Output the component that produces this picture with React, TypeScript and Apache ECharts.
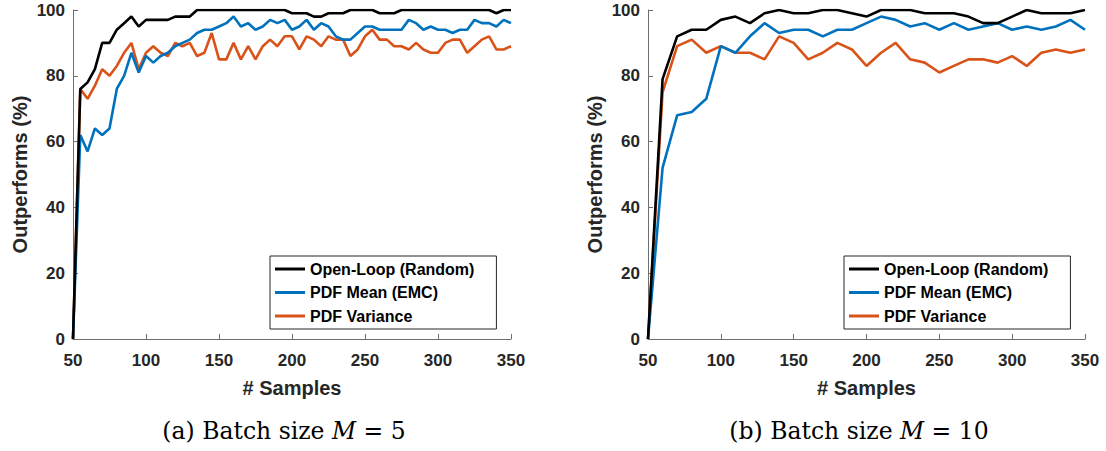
import React, { useEffect, useRef } from "react";
import * as echarts from "echarts";

const samplesM5 = [50, 55, 60, 65, 70, 75, 80, 85, 90, 95, 100, 105, 110, 115, 120, 125, 130, 135, 140, 145, 150, 155, 160, 165, 170, 175, 180, 185, 190, 195, 200, 205, 210, 215, 220, 225, 230, 235, 240, 245, 250, 255, 260, 265, 270, 275, 280, 285, 290, 295, 300, 305, 310, 315, 320, 325, 330, 335, 340, 345, 350];
const openLoopM5 = [0, 76, 78, 82, 90, 90, 94, 96, 98, 95, 97, 97, 97, 97, 98, 98, 98, 100, 100, 100, 100, 100, 100, 100, 100, 100, 100, 100, 100, 100, 99, 99, 99, 98, 98, 99, 99, 99, 100, 100, 100, 100, 99, 99, 99, 100, 100, 100, 100, 100, 100, 100, 100, 100, 100, 100, 100, 100, 99, 100, 100];
const pdfMeanM5 = [0, 62, 57, 64, 62, 64, 76, 80, 87, 81, 86, 84, 86, 87, 89, 90, 91, 93, 94, 94, 95, 96, 98, 95, 96, 94, 95, 97, 96, 97, 94, 95, 97, 94, 96, 95, 92, 91, 91, 93, 95, 95, 94, 94, 94, 94, 97, 96, 94, 95, 94, 94, 93, 94, 94, 97, 96, 96, 95, 97, 96];
const pdfVarM5 = [0, 76, 73, 77, 82, 80, 83, 87, 90, 82, 87, 89, 87, 86, 90, 89, 90, 86, 87, 93, 85, 85, 90, 85, 89, 85, 89, 91, 89, 92, 92, 88, 92, 91, 89, 92, 91, 91, 86, 88, 92, 94, 91, 91, 89, 89, 88, 90, 88, 87, 87, 90, 91, 91, 87, 89, 91, 92, 88, 88, 89];

const samplesM10 = [50, 60, 70, 80, 90, 100, 110, 120, 130, 140, 150, 160, 170, 180, 190, 200, 210, 220, 230, 240, 250, 260, 270, 280, 290, 300, 310, 320, 330, 340, 350];
const openLoopM10 = [0, 79, 92, 94, 94, 97, 98, 96, 99, 100, 99, 99, 100, 100, 99, 98, 100, 100, 100, 99, 99, 99, 98, 96, 96, 98, 100, 99, 99, 99, 100];
const pdfMeanM10 = [0, 52, 68, 69, 73, 89, 87, 92, 96, 93, 94, 94, 92, 94, 94, 96, 98, 97, 95, 96, 94, 96, 94, 95, 96, 94, 95, 94, 95, 97, 94];
const pdfVarM10 = [0, 75, 89, 91, 87, 89, 87, 87, 85, 92, 90, 85, 87, 90, 88, 83, 87, 90, 85, 84, 81, 83, 85, 85, 84, 86, 83, 87, 88, 87, 88];

const seriesNames = ["Open-Loop (Random)", "PDF Mean (EMC)", "PDF Variance"];
const seriesColors = ["#000000", "#0072BD", "#D95319"];
const captions = [
  { label: "(a)", m: "5" },
  { label: "(b)", m: "10" },
];

const SANS = "'Liberation Sans', Arial, Helvetica, sans-serif";
const SERIF = "'DejaVu Serif', 'Liberation Serif', serif";

const grids = [
  { left: 73, top: 10, width: 438, height: 329 },
  { left: 648, top: 10, width: 437, height: 329 },
];
const legendPos = [
  { left: 270, top: 256 },
  { left: 844, top: 256 },
];
const captionCenters = [284, 859];

function pairs(xs: number[], ys: number[]) {
  return xs.map((x, i) => [x, ys[i]]);
}

export default function App() {
  const ref = useRef<HTMLDivElement>(null);
  useEffect(() => {
    if (!ref.current) return;
    const chart = echarts.init(ref.current, null, { renderer: "svg" });
    const panels = [
      { xs: samplesM5, ys: [openLoopM5, pdfMeanM5, pdfVarM5] },
      { xs: samplesM10, ys: [openLoopM10, pdfMeanM10, pdfVarM10] },
    ];
    const axisColor = "#6e6e6e";
    const labelColor = "#262626";
    const option: any = {
      animation: false,
      grid: grids,
      xAxis: grids.map((_, i) => ({
        type: "value",
        gridIndex: i,
        min: 50,
        max: 350,
        interval: 50,
        name: "# Samples",
        nameLocation: "middle",
        nameGap: 39,
        nameTextStyle: { fontSize: 20, fontWeight: "bold", color: labelColor, fontFamily: SANS },
        axisLine: { lineStyle: { color: axisColor, width: 1 } },
        axisTick: { inside: true, length: 5, lineStyle: { color: axisColor } },
        axisLabel: { fontSize: 17, fontWeight: "bold", color: labelColor, margin: 13, fontFamily: SANS },
        splitLine: { show: false },
      })),
      yAxis: grids.map((_, i) => ({
        type: "value",
        gridIndex: i,
        min: 0,
        max: 100,
        interval: 20,
        name: "Outperforms (%)",
        nameLocation: "middle",
        nameGap: 43,
        nameRotate: 90,
        nameTextStyle: { fontSize: 20, fontWeight: "bold", color: labelColor, fontFamily: SANS },
        axisLine: { show: true, lineStyle: { color: axisColor, width: 1 } },
        axisTick: { show: true, inside: true, length: 5, lineStyle: { color: axisColor } },
        axisLabel: { fontSize: 17, fontWeight: "bold", color: labelColor, margin: 8, fontFamily: SANS },
        splitLine: { show: false },
      })),
      legend: legendPos.map((p) => ({
        left: p.left,
        top: p.top,
        orient: "vertical",
        data: seriesNames,
        icon: "rect",
        itemWidth: 30,
        itemHeight: 3,
        itemGap: 7.5,
        padding: [5, 22, 5, 5],
        backgroundColor: "#ffffff",
        borderColor: "#262626",
        borderWidth: 1,
        borderRadius: 0,
        selectedMode: false,
        textStyle: { fontSize: 16, fontWeight: "bold", color: "#000", fontFamily: SANS },
      })),
      series: panels.flatMap((panel, gi) =>
        panel.ys.map((ys, si) => ({
          type: "line",
          name: seriesNames[si],
          xAxisIndex: gi,
          yAxisIndex: gi,
          data: pairs(panel.xs, ys),
          symbol: "none",
          lineStyle: { color: seriesColors[si], width: 2.6 },
          itemStyle: { color: seriesColors[si] },
          z: 3 - si,
        }))
      ),
      graphic: captions.map((c, i) => ({
        type: "text",
        x: captionCenters[i],
        y: 431,
        style: {
          text: `{n|${c.label} Batch size }{i|M}{n| = ${c.m}}`,
          align: "center",
          verticalAlign: "middle",
          rich: {
            n: { fontFamily: SERIF, fontSize: 23.5, fill: "#000" },
            i: { fontFamily: SERIF, fontSize: 23.5, fontStyle: "italic", fill: "#000" },
          },
        },
      })),
    };
    chart.setOption(option);
    return () => chart.dispose();
  }, []);
  return (
    <div
      ref={ref}
      style={{ position: "fixed", left: 0, top: 0, width: 1106, height: 451, background: "#fff" }}
    />
  );
}
